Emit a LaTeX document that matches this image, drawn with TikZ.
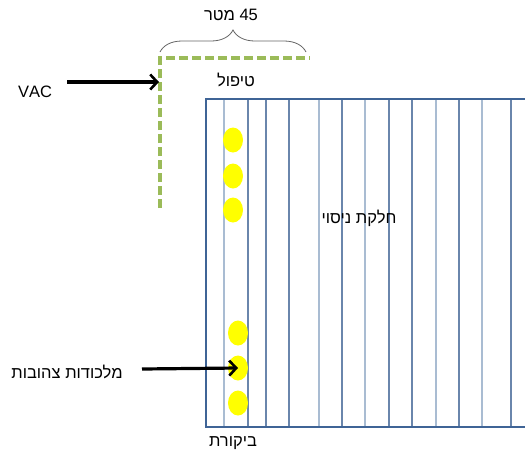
\documentclass[tikz,border=0pt]{standalone}
\usepackage{fontspec}
\setmainfont{Liberation Sans}
\newfontfamily\hebfont[Script=Hebrew]{Liberation Sans}
\TeXXeTstate=1
\usetikzlibrary{arrows.meta,shapes.geometric,decorations.pathreplacing}
\definecolor{plotblue}{HTML}{3F6496}
\definecolor{rowdark}{HTML}{6A86AC}
\definecolor{rowlight}{HTML}{A9BCD2}
\definecolor{edgegreen}{HTML}{9BBB59}
\definecolor{trapyellow}{HTML}{FFFF00}
\tikzset{
  lbl/.style={font=\fontsize{16.5}{19}\selectfont\hebfont, inner sep=0pt},
  trap/.style={ellipse, fill=trapyellow, draw=none, minimum width=20pt, minimum height=25pt, inner sep=0pt},
  pointer/.style={draw=black, line width=3.2pt, -{Straight Barb[length=7pt,width=15pt,line width=2.6pt]}},
  border/.style={draw=edgegreen, line width=3.8pt, dash pattern=on 9pt off 4pt},
}
\begin{document}
\begin{tikzpicture}[x=1pt,y=-1pt]
\useasboundingbox (0,0) rectangle (525,459);

% row lines of the plot
\foreach \xx/\cc in {224/rowlight,248/rowdark,266/rowdark,289/rowdark,319/rowlight,342/rowdark,365/rowlight,389/rowdark,412/rowdark,436/rowlight,459/rowdark,482/rowlight,511/rowdark}
  \draw[\cc, line width=1.1pt] (\xx,99) -- (\xx,427);

% plot outline (runs off the right side)
\draw[plotblue, line width=2.8pt] (530,99) -- (206,99) -- (206,427) -- (530,427);

% green dashed edge of the treated strip
\coordinate (eb) at (160,208);
\coordinate (ec) at (160,58);
\coordinate (er) at (310,58);
\draw[border] (eb) -- (ec) -- (er);

% width brace
\coordinate (bl) at (160,52);
\coordinate (br) at (306,52);
\draw[gray!80!black, line width=0.8pt, decorate, decoration={brace, amplitude=22pt, aspect=0.5}] (bl) -- (br);
\node[lbl] (dist) at (231,15) {\beginR\beginL 45\endL{} מטר\endR};

% yellow traps
\node[trap] (t1) at (233,140) {};
\node[trap] (t2) at (233,176) {};
\node[trap] (t3) at (233,210) {};
\node[trap] (t4) at (238,333) {};
\node[trap] (t5) at (238,368) {};
\node[trap] (t6) at (238,403) {};

% labels
\node[lbl] (vac) at (35,92) {VAC};
\node[lbl] (treat) at (236,80) {\beginR טיפול\endR};
\node[lbl] (plot) at (359,218) {\beginR חלקת ניסוי\endR};
\node[lbl] (traps) at (67,372) {\beginR מלכודות צהובות\endR};
\node[lbl] (ctrl) at (233,443) {\beginR ביקורת\endR};

% arrows
\coordinate (vacend) at (159,82);
\draw[pointer] (67,82) -- (vacend);
\coordinate (trapstart) at (142,369);
\draw[pointer] (trapstart) -- (t5.center);
\end{tikzpicture}
\end{document}
